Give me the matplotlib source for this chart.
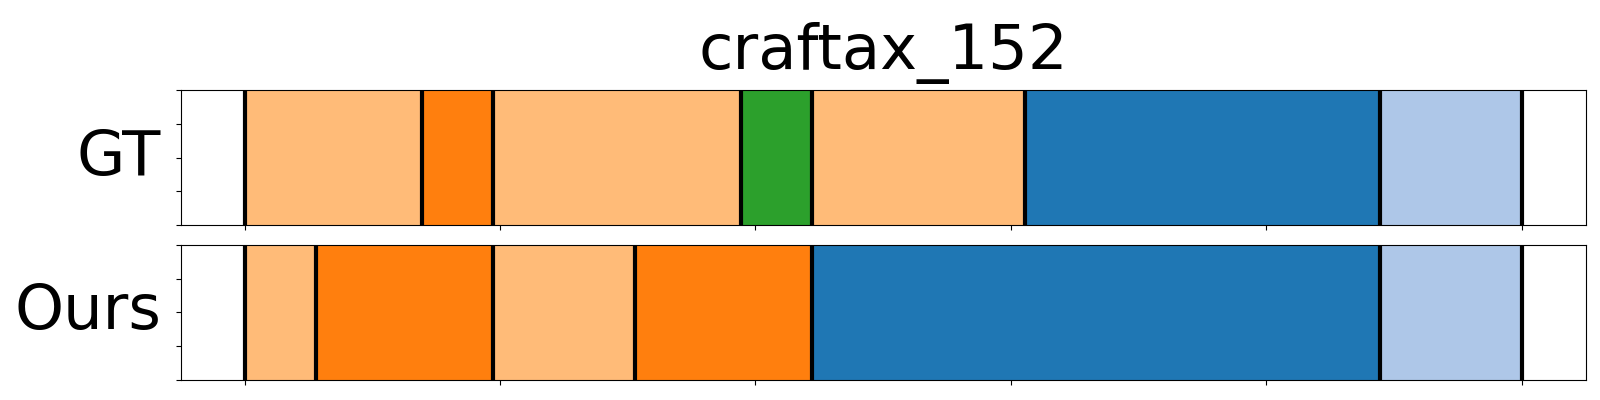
import numpy as np
import matplotlib
matplotlib.use("Agg")
import matplotlib.pyplot as plt

title = "craftax_152"
total = 180  # frames in the episode

# segments: (start frame, end frame, colour)
gt_starts = [0, 25, 35, 70, 80, 110, 160]
gt_ends   = [25, 35, 70, 80, 110, 160, 180]
gt_colors = ["#ffbb78", "#ff7f0e", "#ffbb78", "#2ca02c", "#ffbb78", "#1f77b4", "#aec7e8"]

ours_starts = [0, 10, 35, 55, 80, 160]
ours_ends   = [10, 35, 55, 80, 160, 180]
ours_colors = ["#ffbb78", "#ff7f0e", "#ffbb78", "#ff7f0e", "#1f77b4", "#aec7e8"]

rows = [("GT", gt_starts, gt_ends, gt_colors),
        ("Ours", ours_starts, ours_ends, ours_colors)]

fig, axes = plt.subplots(2, 1, figsize=(16, 4), dpi=100, sharex=True)
fig.subplots_adjust(left=0.113, right=0.991, top=0.775, bottom=0.05, hspace=0.148)

for ax, (label, starts, ends, colors) in zip(axes, rows):
    s = np.array(starts) / total
    e = np.array(ends) / total
    ax.barh(0.5, e - s, left=s, height=1.0, color=colors, edgecolor=colors, linewidth=0.5)
    bounds = np.unique(np.concatenate([s, e]))
    for b in bounds:
        ax.axvline(b, color="black", linewidth=3)
    ax.set_ylim(0, 1)
    ax.set_xlim(-0.05, 1.05)
    ax.set_yticks(np.linspace(0, 1, 5))
    ax.set_yticklabels([])
    ax.set_xticks(np.linspace(0, 1, 6))
    ax.set_xticklabels([])
    ax.set_ylabel(label, fontsize=45, rotation=0, ha="right", va="center", labelpad=7)

axes[0].set_title(title, fontsize=45, pad=15)

plt.savefig("out.png", dpi=100)
